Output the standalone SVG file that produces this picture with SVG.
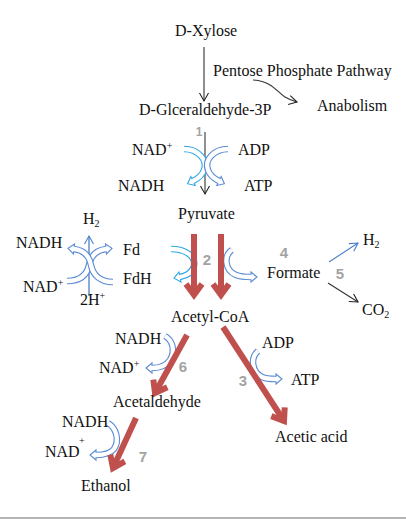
<svg xmlns="http://www.w3.org/2000/svg" width="406" height="521" viewBox="0 0 406 521">
<style>
text{font-family:"Liberation Serif","Times New Roman",serif;font-size:16px;fill:#111}
.sm{font-size:10px}
.num{font-family:"Liberation Sans",Arial,sans-serif;font-weight:bold;font-size:15px;fill:#a3a3a3;text-anchor:middle}
.red{stroke:#c0504d;stroke-width:6;fill:none}
.thin{stroke:#333;stroke-width:1.1;fill:none}
.hb{stroke-width:6.5;fill:none;stroke-linecap:butt}
.hw{stroke:#fff;stroke-width:4.3;fill:none;stroke-linecap:butt}
.cy{stroke:#2fa9e6}
.bl{stroke:#5b8bd4}
.hd{fill:#fff;stroke-width:1.1}
</style>
<defs>
<marker id="rh" markerUnits="userSpaceOnUse" orient="auto" overflow="visible" refX="0" refY="0" markerWidth="20" markerHeight="20">
<path d="M-11,-8 L0,0 L-11,8" fill="none" stroke="#c0504d" stroke-width="6" stroke-linejoin="miter"/>
</marker>
<marker id="kh" markerUnits="userSpaceOnUse" orient="auto" overflow="visible" refX="0" refY="0" markerWidth="12" markerHeight="12">
<path d="M-8,-4.5 L0,0 L-8,4.5" fill="none" stroke="#222" stroke-width="1.1"/>
</marker>
<marker id="bh" markerUnits="userSpaceOnUse" orient="auto" overflow="visible" refX="0" refY="0" markerWidth="12" markerHeight="12">
<path d="M-8,-4.5 L0,0 L-8,4.5" fill="none" stroke="#4a7ec8" stroke-width="1.1"/>
</marker>
</defs>

<g id="connectors">
<!-- black -->
<path class="thin" d="M204,47 L204,101" marker-end="url(#kh)"/>
<path class="thin" d="M253,80 C272,81 278,93 285,97 C290,100 293,101 297,102" marker-end="url(#kh)"/>
<path d="M205,132 L205,194" stroke="#555" stroke-width="1.3" fill="none" marker-end="url(#kh)"/>
<path class="thin" d="M328,283 L358,302" marker-end="url(#kh)"/>
<path d="M329,262 L358,243" stroke="#4a7ec8" stroke-width="1.1" fill="none" marker-end="url(#bh)"/>
<path d="M89,296 L89,236" stroke="#4a7ec8" stroke-width="1.3" fill="none" marker-end="url(#bh)"/>

<!-- hollow arrows: step 1 -->
<g id="h1a">
<path class="hb cy" d="M184,149 C198,149 208,160 204,170 C202,176 197,179 193,181"/>
<polygon class="hd cy" points="195.2,185.5 187.6,183.7 190.8,176.5"/>
<path class="hw" d="M184,149 C198,149 208,160 204,170 C202,176 197,179 193,181 l-1.5,0.75"/>
</g>
<g id="h1b">
<path class="hb bl" d="M228,149 C214,149 204,160 208,170 C210,176 215,179 219,181"/>
<polygon class="hd bl" points="216.8,185.5 224.4,183.7 221.2,176.5"/>
<path class="hw" d="M228,149 C214,149 204,160 208,170 C210,176 215,179 219,181 l1.5,0.75"/>
</g>
<!-- step 2 -->
<g id="h2a">
<path class="hb cy" d="M171,249 C185,249 196,256 194,266 C192,273 185,276 180,277"/>
<polygon class="hd cy" points="181,282 174,278.2 179,272"/>
<path class="hw" d="M171,249 C185,249 196,256 194,266 C192,273 185,276 180,277 l-1.5,0.3"/>
</g>
<g id="h2b">
<path class="hb bl" d="M232,250 C224,255 224,270 236,275 C241,277 246,277 251,277"/>
<polygon class="hd bl" points="251,272 257,277 251,282"/>
<path class="hw" d="M232,250 C224,255 224,270 236,275 C241,277 246,277 251,277 l1.5,0"/>
</g>
<!-- Fd / NAD cross -->
<g id="hfa">
<path class="hb bl" d="M67,281 C80,281 87,275 89,265 C91,255 97,250 106,249"/>
<polygon class="hd bl" points="105.5,244 112,248.4 106.5,254"/>
<path class="hw" d="M67,281 C80,281 87,275 89,265 C91,255 97,250 106,249 l1.5,-0.15"/>
</g>
<g id="hfb">
<path class="hb bl" d="M113,282 C100,282 93,275 91,265 C89,255 83,250 74,249"/>
<polygon class="hd bl" points="74.5,244 68,248.4 73.5,254"/>
<path class="hw" d="M113,282 C100,282 93,275 91,265 C89,255 83,250 74,249 l-1.5,-0.15"/>
</g>
<!-- step 6 -->
<g id="h6">
<path class="hb bl" d="M165,336 C172,340 176,350 170,360 C166,366 160,368 152,368"/>
<polygon class="hd bl" points="152,363 146,368 152,373"/>
<path class="hw" d="M165,336 C172,340 176,350 170,360 C166,366 160,368 152,368 l-1.5,0"/>
</g>
<!-- step 3 -->
<g id="h3">
<path class="hb bl" d="M258,351 C250,358 252,372 262,377 C266,379 270,379 276,379"/>
<polygon class="hd bl" points="276,374 282,379 276,384"/>
<path class="hw" d="M258,351 C250,358 252,372 262,377 C266,379 270,379 276,379 l1.5,0"/>
</g>
<!-- step 7 -->
<g id="h7">
<path class="hb bl" d="M108,423 C116,428 120,440 114,449 C110,454 104,455 96,455"/>
<polygon class="hd bl" points="96,450 90,455 96,460"/>
<path class="hw" d="M108,423 C116,428 120,440 114,449 C110,454 104,455 96,455 l-1.5,0"/>
</g>

<!-- red -->
<path class="red" d="M194,234 L194,295" marker-end="url(#rh)"/>
<path class="red" d="M221,234 L221,295" marker-end="url(#rh)"/>
<path class="red" d="M187,335 L155,393" marker-end="url(#rh)"/>
<path class="red" d="M223,327 L284,421" marker-end="url(#rh)"/>
<path class="red" d="M136,418 L113,468" marker-end="url(#rh)"/>
</g>

<g id="n-xylose"><text x="175" y="36">D-Xylose</text></g>
<g id="n-ppp"><text x="213" y="76">Pentose Phosphate Pathway</text></g>
<g id="n-anabolism"><text x="317" y="111">Anabolism</text></g>
<g id="n-g3p"><text x="139" y="115">D-Glceraldehyde-3P</text></g>
<g id="n-s1">
<text x="132" y="155">NAD<tspan class="sm" dy="-6">+</tspan></text>
<text x="238" y="155">ADP</text>
<text x="118" y="191">NADH</text>
<text x="244" y="191">ATP</text>
</g>
<g id="n-pyruvate"><text x="178" y="219">Pyruvate</text></g>
<g id="n-fd">
<text x="83" y="224">H<tspan class="sm" dy="3">2</tspan></text>
<text x="16" y="248">NADH</text>
<text x="123" y="255">Fd</text>
<text x="123" y="284">FdH</text>
<text x="23" y="292">NAD<tspan class="sm" dy="-6">+</tspan></text>
<text x="80" y="305">2H<tspan class="sm" dy="-6">+</tspan></text>
</g>
<g id="n-formate"><text x="267" y="278">Formate</text></g>
<g id="n-h2"><text x="363" y="245">H<tspan class="sm" dy="3">2</tspan></text></g>
<g id="n-co2"><text x="362" y="315">CO<tspan class="sm" dy="3">2</tspan></text></g>
<g id="n-acetylcoa"><text x="171" y="322">Acetyl-CoA</text></g>
<g id="n-s6">
<text x="115" y="344">NADH</text>
<text x="99" y="373">NAD<tspan class="sm" dy="-6">+</tspan></text>
</g>
<g id="n-s3">
<text x="262" y="348">ADP</text>
<text x="291" y="385">ATP</text>
</g>
<g id="n-acetaldehyde"><text x="113" y="407">Acetaldehyde</text></g>
<g id="n-acetic"><text x="275" y="442">Acetic acid</text></g>
<g id="n-s7">
<text x="62" y="427">NADH</text>
<text x="45" y="457">NAD</text>
<text class="sm" x="79" y="444">+</text>
</g>
<g id="n-ethanol"><text x="81" y="491">Ethanol</text></g>

<g id="nums">
<text class="num" x="199" y="136" style="font-size:12px">1</text>
<text class="num" x="207" y="265">2</text>
<text class="num" x="243" y="386">3</text>
<text class="num" x="284" y="258">4</text>
<text class="num" x="340" y="279">5</text>
<text class="num" x="183" y="372">6</text>
<text class="num" x="143" y="462">7</text>
</g>

<line x1="0" y1="518" x2="406" y2="518" stroke="#b5b5b5" stroke-width="2"/>
</svg>
